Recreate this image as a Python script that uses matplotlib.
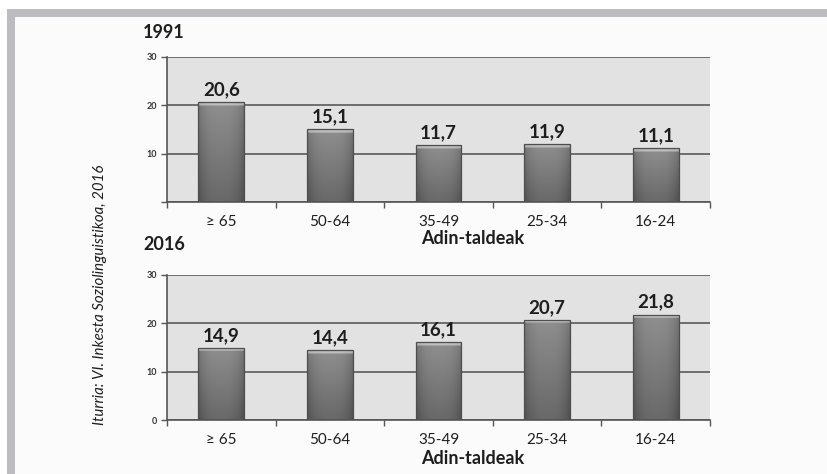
import numpy as np
import matplotlib
matplotlib.use("Agg")
import matplotlib.pyplot as plt
from matplotlib.patches import Rectangle

# ---- data ----
categories = ["\u2265 65", "50-64", "35-49", "25-34", "16-24"]
values_1991 = [20.6, 15.1, 11.7, 11.9, 11.1]
values_2016 = [14.9, 14.4, 16.1, 20.7, 21.8]
labels_1991 = ["20,6", "15,1", "11,7", "11,9", "11,1"]
labels_2016 = ["14,9", "14,4", "16,1", "20,7", "21,8"]
years = ["1991", "2016"]
xlabel = "Adin-taldeak"
source = "Iturria: VI. Inkesta Soziolinguistikoa, 2016"
yticks = [0, 10, 20, 30]
ytick_labels_1991 = ["", "10", "20", "30"]
ytick_labels_2016 = ["0", "10", "20", "30"]

FONT = "Lato"
TXT = "#1e1e1e"
W, H = 828, 474
fig = plt.figure(figsize=(W / 100, H / 100), dpi=100)
fig.patch.set_facecolor("#fbfbfb")

# frame (white outside + gray bars)
fig.add_artist(Rectangle((0, 1 - 9 / H), 1, 9 / H, transform=fig.transFigure,
                         facecolor="white", edgecolor="none", zorder=0))
fig.add_artist(Rectangle((0, 0), 7 / W, 1, transform=fig.transFigure,
                         facecolor="white", edgecolor="none", zorder=0))
fig.add_artist(Rectangle((7 / W, 1 - 17 / H), 1, 8 / H, transform=fig.transFigure,
                         facecolor="#bdbdc1", edgecolor="none", zorder=1))
fig.add_artist(Rectangle((7 / W, 0), 8 / W, 1 - 9 / H, transform=fig.transFigure,
                         facecolor="#bdbdc1", edgecolor="none", zorder=1))


def bar_gradient(ax, patch):
    x0, y0 = patch.get_x(), patch.get_y()
    w, h = patch.get_width(), patch.get_height()
    nx, ny = 60, 200
    xs = np.linspace(-1, 1, nx)
    ys = np.linspace(0, 1, ny)[:, None]  # 0 = top row
    base = 0.56 - 0.15 * ys  # lighter top, darker bottom
    horiz = -0.10 * np.abs(xs) ** 3
    img = base + horiz[None, :]
    px_h = abs(ax.transData.transform((0, h))[1] - ax.transData.transform((0, 0))[1])
    rows = max(1, int(round(ny * 3.5 / max(px_h, 1))))
    img[:rows, :] = 0.74 + horiz[None, :] * 0.5
    img = np.clip(img, 0, 1)
    im = ax.imshow(img, cmap="gray", vmin=0, vmax=1, aspect="auto",
                   extent=(x0, x0 + w, y0, y0 + h), origin="upper",
                   zorder=2, interpolation="bilinear")
    im.set_clip_path(patch)


def panel(rect, vals, labs, ylabs, year, title_y, xl_y):
    ax = fig.add_axes(rect)
    ax.set_facecolor("#e2e2e2")
    x = np.arange(len(categories))
    bars = ax.bar(x, vals, width=0.42, color="#6e6e6e", edgecolor="#4e4e4e",
                  linewidth=0.9, zorder=3)
    ax.set_xlim(-0.5, len(categories) - 0.5)
    ax.set_ylim(0, 30)
    ax.figure.canvas.draw()
    for b in bars:
        b.set_facecolor("none")
        bar_gradient(ax, b)
    for b, lab in zip(bars, labs):
        ax.annotate(lab, (b.get_x() + b.get_width() / 2, b.get_height()),
                    xytext=(0, 3), textcoords="offset points", ha="center",
                    va="bottom", fontsize=13.5, fontweight="bold", family=FONT,
                    color=TXT, zorder=5)
    ax.set_yticks(yticks)
    ax.set_yticklabels(ylabs, fontsize=6.5, fontweight="bold",
                       family=FONT, color="#333333")
    ax.yaxis.grid(True, color="#5a5a5a", linewidth=1.2, zorder=1)
    ax.set_axisbelow(True)
    ax.set_xticks(x, minor=False)
    ax.set_xticklabels(categories, fontsize=11, family=FONT, color=TXT)
    ax.tick_params(axis="x", which="major", length=0, pad=9)
    ax.set_xticks(np.arange(-0.5, len(categories)), minor=True)
    ax.tick_params(axis="x", which="minor", length=4, width=1, color="#555555",
                   direction="out")
    ax.tick_params(axis="y", length=4, width=1, color="#555555", pad=3)
    for s in ("top", "right"):
        ax.spines[s].set_visible(False)
    for s in ("left", "bottom"):
        ax.spines[s].set_color("#555555")
        ax.spines[s].set_linewidth(1.2)
    fig.text(143 / W, 1 - title_y / H, year, fontsize=13, fontweight="bold",
             family=FONT, color=TXT, ha="left", va="center")
    fig.text(421 / W, 1 - xl_y / H, xlabel, fontsize=13, fontweight="bold",
             family=FONT, color=TXT, ha="left", va="center")
    return ax


panel([167 / W, 1 - 202 / H, 543 / W, 145 / H], values_1991, labels_1991,
      ytick_labels_1991, years[0], 33, 238)
panel([167 / W, 1 - 420 / H, 543 / W, 145 / H], values_2016, labels_2016,
      ytick_labels_2016, years[1], 244, 459)

fig.text(100 / W, 1 - 295 / H, source, rotation=90, fontsize=10.8,
         style="italic", family=FONT, color=TXT, ha="center", va="center")

fig.savefig("out.png", dpi=100, facecolor=fig.get_facecolor())
